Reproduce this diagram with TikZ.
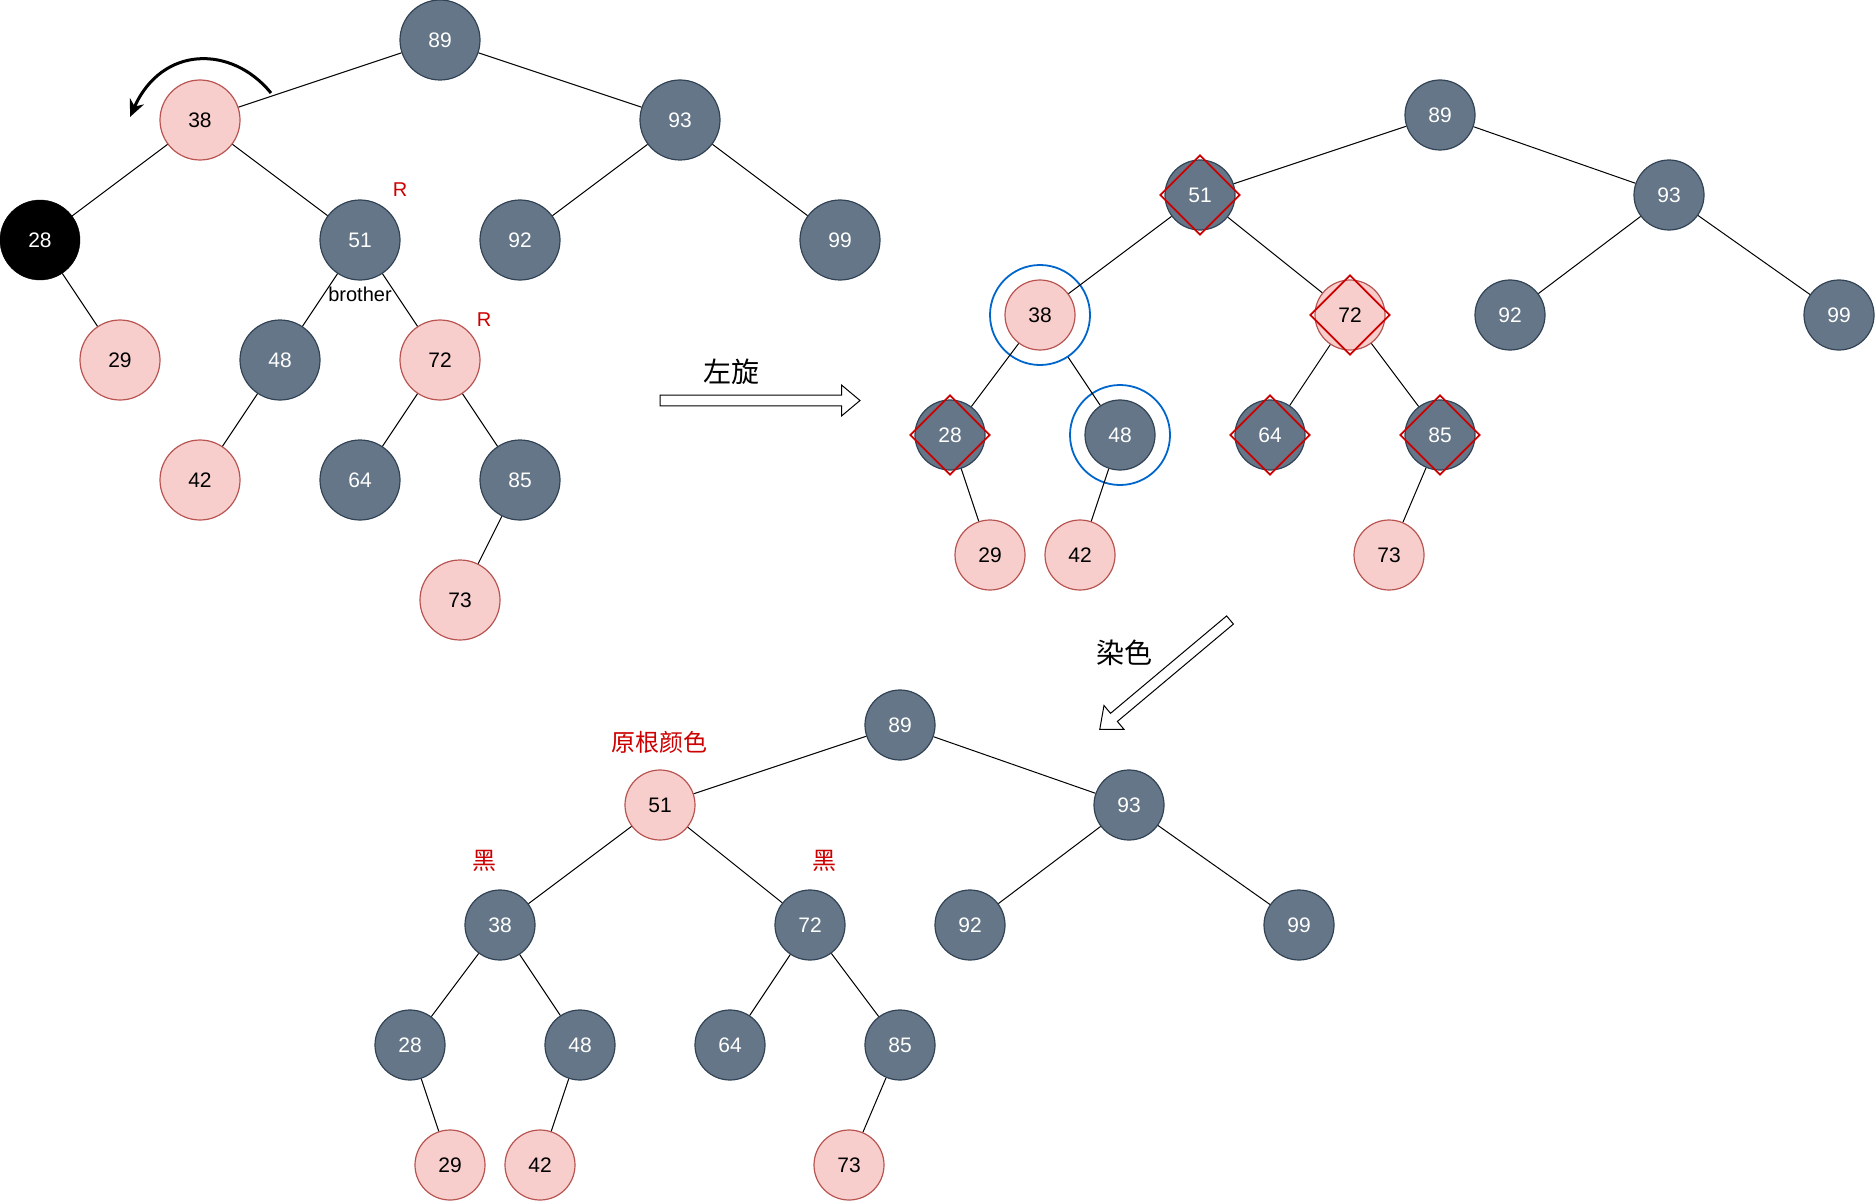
\documentclass[tikz,border=0pt]{standalone}
\usepackage{fontspec}
\setmainfont{Liberation Sans}
\newfontfamily\cjk{Noto Sans CJK SC}
\usetikzlibrary{arrows.meta,shapes.geometric}
\definecolor{Slate}{HTML}{647687}
\definecolor{SlateLine}{HTML}{314354}
\definecolor{Rose}{HTML}{F8CECC}
\definecolor{RoseLine}{HTML}{B85450}
\definecolor{Mark}{HTML}{CC0000}
\definecolor{RingBlue}{HTML}{0066CC}

% hollow block arrow: start, length, angle
\newcommand{\fatarrow}[3]{%
  \draw[hollow,shift={(#1)},rotate=#3] (0,-5.3) -- (#2-18.5,-5.3) -- (#2-18.5,-15.5) -- (#2,0)
    -- (#2-18.5,15.5) -- (#2-18.5,5.3) -- (0,5.3) -- cycle;}

\begin{document}
\begin{tikzpicture}[x=1pt,y=-1pt,
  gnode/.style={circle,draw=SlateLine,fill=Slate,text=white,line width=1.2pt,minimum size=#1,inner sep=0pt,font=\fontsize{21}{25}\selectfont},
  gnode/.default=70pt,
  rnode/.style={circle,draw=RoseLine,fill=Rose,text=black,line width=1.2pt,minimum size=#1,inner sep=0pt,font=\fontsize{21}{25}\selectfont},
  rnode/.default=70pt,
  bnode/.style={circle,draw=black,fill=black,text=white,minimum size=80pt,inner sep=0pt,font=\fontsize{21}{25}\selectfont},
  dmd/.style={diamond,draw=Mark,line width=1.8pt,minimum width=80pt,minimum height=80pt,inner sep=0pt},
  ring/.style={circle,draw=RingBlue,line width=1.8pt,minimum size=100pt,inner sep=0pt},
  tag/.style={text=Mark,font=\fontsize{20}{24}\selectfont},
  cjktag/.style={text=Mark,font=\cjk\fontsize{24}{28}\selectfont},
  note/.style={text=black,font=\cjk\fontsize{28}{32}\selectfont},
  link/.style={draw=black,line width=1pt},
  hollow/.style={draw=black,fill=white,line width=1pt,line join=miter}
]
\useasboundingbox (0,0) rectangle (1876,1201);

% before the rotation
\node[gnode=80pt] (a89) at (440,40) {89};
\node[rnode=80pt] (a38) at (200,120) {38};
\node[gnode=80pt] (a93) at (680,120) {93};
\node[bnode] (a28) at (40,240) {28};
\node[gnode=80pt] (a51) at (360,240) {51};
\node[gnode=80pt] (a92) at (520,240) {92};
\node[gnode=80pt] (a99) at (840,240) {99};
\node[rnode=80pt] (a29) at (120,360) {29};
\node[gnode=80pt] (a48) at (280,360) {48};
\node[rnode=80pt] (a72) at (440,360) {72};
\node[rnode=80pt] (a42) at (200,480) {42};
\node[gnode=80pt] (a64) at (360,480) {64};
\node[gnode=80pt] (a85) at (520,480) {85};
\node[rnode=80pt] (a73) at (460,600) {73};
\node[tag] (r51) at (400,190) {R};
\node[tag] (r72) at (484,320) {R};
\node[font=\fontsize{20}{24}\selectfont] (bro) at (360,294) {brother};
\draw[link] (a89) -- (a38); \draw[link] (a89) -- (a93);
\draw[link] (a38) -- (a28); \draw[link] (a38) -- (a51);
\draw[link] (a93) -- (a92); \draw[link] (a93) -- (a99);
\draw[link] (a28) -- (a29);
\draw[link] (a51) -- (a48); \draw[link] (a51) -- (a72);
\draw[link] (a48) -- (a42);
\draw[link] (a72) -- (a64); \draw[link] (a72) -- (a85);
\draw[link] (a85) -- (a73);
\coordinate (turnA) at (271,93);
\coordinate (turnB) at (130,117);
\draw[line width=3pt,-{Stealth[length=17pt,width=15pt]}] (turnA) .. controls (232,45) and (162,45) .. (turnB);

% left rotation
\coordinate (ar1) at (660,400.5);
\fatarrow{ar1}{200}{0}
\node[note] (rot) at (731,372) {左旋};

% after the rotation
\node[gnode] (b89) at (1440,115) {89};
\node[gnode] (b51) at (1200,195) {51};
\node[gnode] (b93) at (1669,195) {93};
\node[rnode] (b38) at (1040,315) {38};
\node[rnode] (b72) at (1350,315) {72};
\node[gnode] (b92) at (1510,315) {92};
\node[gnode] (b99) at (1839,315) {99};
\node[gnode] (b28) at (950,435) {28};
\node[gnode] (b48) at (1120,435) {48};
\node[gnode] (b64) at (1270,435) {64};
\node[gnode] (b85) at (1440,435) {85};
\node[rnode] (b29) at (990,555) {29};
\node[rnode] (b42) at (1080,555) {42};
\node[rnode] (b73) at (1389,555) {73};
\node[dmd] (d51) at (b51) {};
\node[dmd] (d72) at (b72) {};
\node[dmd] (d28) at (b28) {};
\node[dmd] (d64) at (b64) {};
\node[dmd] (d85) at (b85) {};
\node[ring] (o38) at (b38) {};
\node[ring] (o48) at (b48) {};
\draw[link] (b89) -- (b51); \draw[link] (b89) -- (b93);
\draw[link] (b51) -- (b38); \draw[link] (b51) -- (b72);
\draw[link] (b93) -- (b92); \draw[link] (b93) -- (b99);
\draw[link] (b38) -- (b28); \draw[link] (o38) -- (b48);
\draw[link] (b72) -- (b64); \draw[link] (b72) -- (b85);
\draw[link] (b28) -- (b29); \draw[link] (b48) -- (b42);
\draw[link] (b85) -- (b73);

% recolouring
\coordinate (ar2) at (1230,620);
\fatarrow{ar2}{170}{220}
\node[note] (dye) at (1124,653) {染色};

% final tree
\node[gnode] (c89) at (900,725) {89};
\node[rnode] (c51) at (660,805) {51};
\node[gnode] (c93) at (1129,805) {93};
\node[gnode] (c38) at (500,925) {38};
\node[gnode] (c72) at (810,925) {72};
\node[gnode] (c92) at (970,925) {92};
\node[gnode] (c99) at (1299,925) {99};
\node[gnode] (c28) at (410,1045) {28};
\node[gnode] (c48) at (580,1045) {48};
\node[gnode] (c64) at (730,1045) {64};
\node[gnode] (c85) at (900,1045) {85};
\node[rnode] (c29) at (450,1165) {29};
\node[rnode] (c42) at (540,1165) {42};
\node[rnode] (c73) at (849,1165) {73};
\node[cjktag] (root) at (659,742) {原根颜色};
\node[cjktag] (blk38) at (484,861) {黑};
\node[cjktag] (blk72) at (824,861) {黑};
\draw[link] (c89) -- (c51); \draw[link] (c89) -- (c93);
\draw[link] (c51) -- (c38); \draw[link] (c51) -- (c72);
\draw[link] (c93) -- (c92); \draw[link] (c93) -- (c99);
\draw[link] (c38) -- (c28); \draw[link] (c38) -- (c48);
\draw[link] (c72) -- (c64); \draw[link] (c72) -- (c85);
\draw[link] (c28) -- (c29); \draw[link] (c48) -- (c42);
\draw[link] (c85) -- (c73);
\end{tikzpicture}
\end{document}
